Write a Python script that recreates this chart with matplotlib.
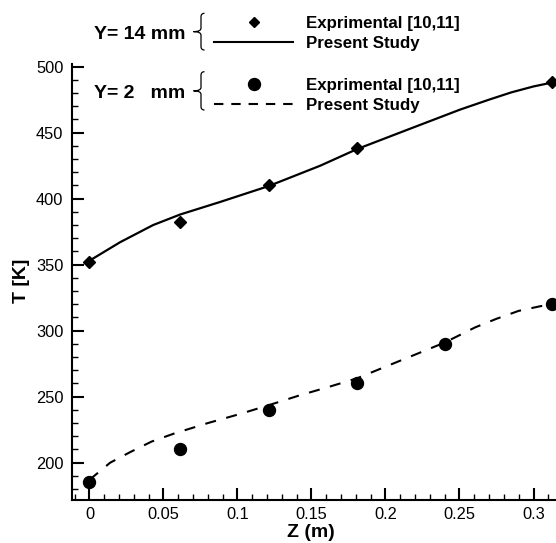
import matplotlib.pyplot as plt
from matplotlib.path import Path
from matplotlib.patches import PathPatch
from matplotlib.lines import Line2D
from matplotlib.ticker import MultipleLocator, FuncFormatter

plt.rcParams['font.family'] = ['Liberation Sans', 'DejaVu Sans']

# --- Data ---
# measured wall temperatures at two heights
z_exp_14 = [0.0, 0.0613, 0.121, 0.1807, 0.3128]
t_exp_14 = [352, 382, 410, 438, 488]
z_exp_2 = [0.0, 0.0613, 0.121, 0.1807, 0.2403, 0.3128]
t_exp_2 = [185, 210, 240, 260, 290, 320]

# simulation profiles
z_sim_14 = [0.0, 0.0207, 0.043, 0.0613, 0.0883, 0.121, 0.156, 0.1807,
            0.219, 0.2505, 0.27, 0.285, 0.3, 0.3128]
t_sim_14 = [353, 367, 380, 388, 397.5, 409.5, 425, 437.5,
            454, 467.5, 475, 480.5, 485, 488]
z_sim_2 = [0.0, 0.014, 0.0275, 0.042, 0.057, 0.08, 0.102, 0.121, 0.142,
           0.162, 0.181, 0.205, 0.24, 0.2606, 0.275, 0.29, 0.3045, 0.3128]
t_sim_2 = [187, 200, 208, 216, 222, 230, 237, 243.5, 251,
           257.5, 264, 275, 291, 302.5, 309, 315, 318.5, 320]

group_labels = ['Y= 14 mm', 'Y= 2   mm']
entry_labels = ['Exprimental [10,11]', 'Present Study']

W, H = 556, 543

fig = plt.figure(figsize=(W / 100, H / 100), dpi=100)
ax = fig.add_axes([71.7 / W, 42.7 / H, 484.3 / W, 436.3 / H])

ax.plot(z_sim_14, t_sim_14, color='black', lw=1.6, clip_on=False)
ax.plot(z_sim_2, t_sim_2, color='black', lw=1.5,
        linestyle=(0, (5.3, 5.1)), clip_on=False)
ax.plot(z_exp_14, t_exp_14, 'D', color='black', ms=6.0, clip_on=False)
ax.plot(z_exp_2, t_exp_2, 'o', color='black', ms=8.6, clip_on=False)

ax.set_xlim(-0.012, 0.3152)
ax.set_ylim(171.5, 502)
ax.set_yticks(range(200, 501, 50))
ax.xaxis.set_major_locator(MultipleLocator(0.05))
ax.xaxis.set_minor_locator(MultipleLocator(0.01))
ax.yaxis.set_minor_locator(MultipleLocator(10))
ax.xaxis.set_major_formatter(FuncFormatter(lambda v, p: '%g' % round(v, 3)))

for side in ['top', 'right']:
    ax.spines[side].set_visible(False)
for side in ['left', 'bottom']:
    ax.spines[side].set_linewidth(1.5)

ax.tick_params(which='major', direction='in', length=8.5, width=1.5,
               labelsize=11.8, pad=6)
ax.tick_params(which='minor', direction='in', length=4.3, width=1.0)
ax.tick_params(axis='x', which='major', pad=5)

fig.text(21.5 / W, 1 - 281 / H, 'T [K]', rotation=90, ha='center',
         va='center', fontsize=14, fontweight='bold')
fig.text(311 / W, 1 - 537 / H, 'Z (m)', ha='center', va='baseline',
         fontsize=14, fontweight='bold')

# --- key drawn in pixel coordinates over the figure ---
key = fig.add_axes([0, 0, 1, 1])
key.set_xlim(0, W)
key.set_ylim(H, 0)
key.set_axis_off()


def brace(a, x_tip, x_stem, x_end, y_top, y_bot, r=3.5):
    y_mid = (y_top + y_bot) / 2
    verts = [(x_end, y_top),
             (x_stem, y_top), (x_stem, y_top + r),
             (x_stem, y_mid - r),
             (x_stem, y_mid), (x_tip, y_mid),
             (x_stem, y_mid), (x_stem, y_mid + r),
             (x_stem, y_bot - r),
             (x_stem, y_bot), (x_end, y_bot)]
    codes = [Path.MOVETO, Path.CURVE3, Path.CURVE3, Path.LINETO,
             Path.CURVE3, Path.CURVE3, Path.CURVE3, Path.CURVE3,
             Path.LINETO, Path.CURVE3, Path.CURVE3]
    a.add_patch(PathPatch(Path(verts, codes), fill=False, lw=0.9,
                          edgecolor='black'))


rows = [(13.3, 50.0, 39.0, 22.3, 42.3, 'D', 6.0 * 10 / 12, '-'),
        (71.7, 110.0, 98.0, 84.3, 104.3, 'o', 8.6, (0, (4.5, 3.8)))]
for (y_top, y_bot, y_base, y_mark, y_line, mk, ms, ls), glabel in zip(rows, group_labels):
    key.text(94.3, y_base, glabel, ha='left', va='baseline',
             fontsize=14, fontweight='bold')
    brace(key, 193.5, 201.0, 204.5, y_top, y_bot)
    key.add_line(Line2D([254], [y_mark], marker=mk, ms=ms, color='black',
                        linestyle='none'))
    key.add_line(Line2D([214.3, 293.3], [y_line, y_line], color='black',
                        lw=1.5, linestyle=ls))
    key.text(306, y_mark + 6.0, entry_labels[0], ha='left', va='baseline',
             fontsize=12.2, fontweight='bold')
    key.text(306, y_line + 5.5, entry_labels[1], ha='left', va='baseline',
             fontsize=12.2, fontweight='bold')

fig.savefig('out.png', dpi=100)
